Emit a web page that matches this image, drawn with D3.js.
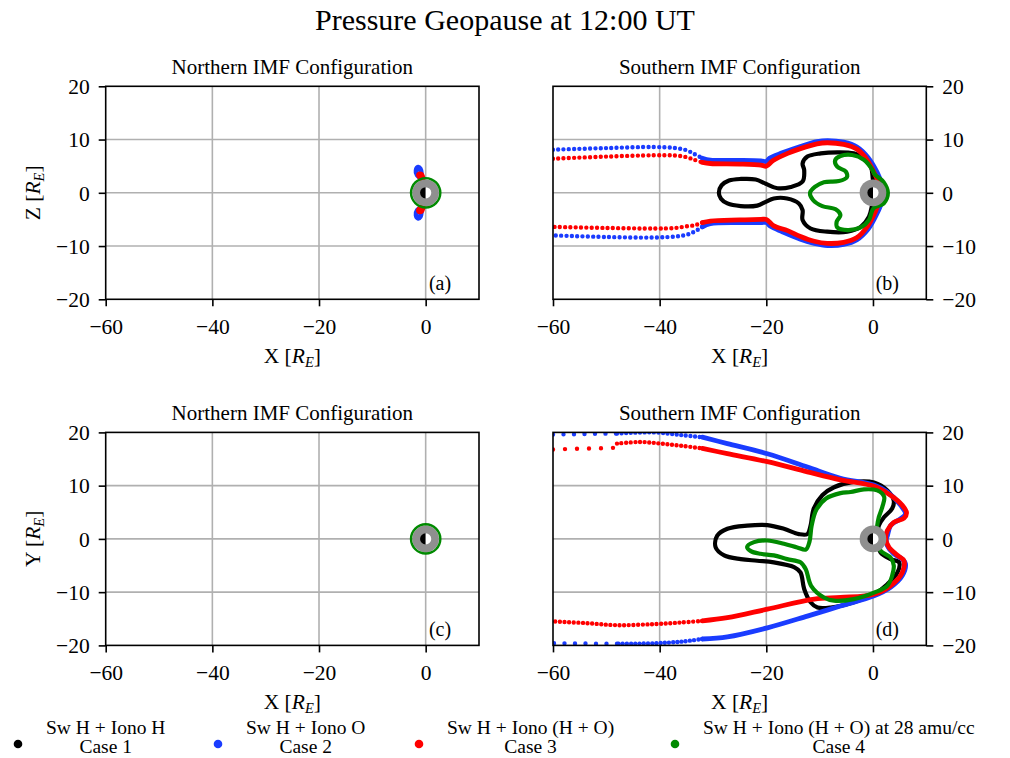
<!DOCTYPE html>
<html><head><meta charset="utf-8">
<script src="https://cdn.jsdelivr.net/npm/d3@7"></script>
<style>
body{margin:0;background:#fff;}
svg text{font-family:"Liberation Serif","Times New Roman",serif;fill:#000;}
</style></head><body>
<svg id="fig" width="1010" height="758"></svg>
<script>
// ---- Geopause boundaries, coordinates in Earth radii [x, z] or [x, y] ----
const caseLabels = ["Sw H + Iono H", "Sw H + Iono O", "Sw H + Iono (H + O)", "Sw H + Iono (H + O) at 28 amu/cc"];
const caseNames = ["Case 1", "Case 2", "Case 3", "Case 4"];
const caseColors = ["#000000", "#1a3cff", "#ff0000", "#008a00"];
const xTicks = [-60, -40, -20, 0];
const yTicks = [-20, -10, 0, 10, 20];

// Northern IMF, X-Z plane
const aBlueTop = [[-0.8,2.8],[-1.6,3.3],[-1.8,4.2],[-1.4,4.8],[-1.0,4.5],[-0.8,3.6]];
const aBlueBot = [[-0.8,-2.8],[-1.6,-3.3],[-1.8,-4.2],[-1.4,-4.8],[-1.0,-4.5],[-0.8,-3.6]];
const aRedTop = [[-0.5,2.6],[-1.2,3.0],[-1.3,3.5],[-0.8,3.5]];
const aRedBot = [[-0.5,-2.6],[-1.2,-3.0],[-1.3,-3.5],[-0.8,-3.5]];
const nearRing = [[2.75,0],[2.54,1.05],[1.94,1.94],[1.05,2.54],[0,2.75],[-1.05,2.54],[-1.94,1.94],[-2.54,1.05],[-2.75,0],[-2.54,-1.05],[-1.94,-1.94],[-1.05,-2.54],[0,-2.75],[1.05,-2.54],[1.94,-1.94],[2.54,-1.05]];

// Southern IMF, X-Z plane
const bBlueTailTop = [[-60,8.1],[-50,8.4],[-41,8.6],[-37,8.4],[-35,8.0],[-33.5,7.3],[-32,6.5]];
const bBlueBody = [[-32,6.5],[-30.5,6.15],[-25,6.1],[-21,6.0],[-20,5.9],[-19.4,6.5],[-17,7.5],[-13.6,8.7],[-10.5,9.6],[-8.5,9.8],[-5.5,9.5],[-3,8.6],[-0.9,6.6],[0.8,3.8],[1.7,1.5],[1.9,0],[1.7,-1.5],[0.8,-3.8],[-0.9,-6.8],[-3,-8.8],[-5.5,-9.7],[-8.5,-9.9],[-11,-9.5],[-13.6,-8.7],[-17,-7.3],[-19.2,-6.3],[-20,-5.6],[-21,-5.6],[-25,-5.6],[-30.5,-5.8],[-32,-6.4]];
const bBlueTailBot = [[-32,-6.4],[-33.5,-7.3],[-35,-7.9],[-37,-8.2],[-41,-8.4],[-50,-8.3],[-60,-8.0]];
const bRedTailTop = [[-60,6.4],[-50,6.8],[-41,7.05],[-37,7.0],[-35,6.7],[-33.5,6.2],[-32,5.7]];
const bRedBody = [[-32,5.7],[-30.5,5.5],[-25,5.4],[-21,5.2],[-20,5.0],[-18.8,6.0],[-16,7.4],[-13.6,8.3],[-10.5,9.2],[-8.6,9.4],[-5.5,9.1],[-3,8.2],[-1.1,6.2],[0.5,3.2],[1.3,1.3],[1.5,0],[1.3,-1.3],[0.5,-3.4],[-1.1,-6.4],[-3,-8.4],[-5.5,-9.3],[-8.6,-9.5],[-11,-9.1],[-13.6,-8.2],[-16,-7.1],[-18.6,-6.2],[-20,-5.0],[-21,-5.0],[-25,-5.1],[-30.5,-5.3],[-32,-5.6]];
const bRedTailBot = [[-32,-5.6],[-33.5,-6.1],[-35,-6.3],[-37,-6.6],[-41,-6.7],[-50,-6.6],[-60,-6.4]];
const bBlack = [[0.4,0],[0.0,2.4],[-0.4,4.9],[-1.7,6.5],[-3.6,7.4],[-6.7,7.6],[-9.8,7.4],[-12.3,6.8],[-13.2,5.5],[-12.9,4.3],[-13.2,2.1],[-15.4,1.1],[-17.9,0.85],[-20.1,1.7],[-22,2.5],[-24.8,2.6],[-27,2.3],[-28.4,1.4],[-28.9,0],[-28.5,-1.1],[-27.3,-2.0],[-24.8,-2.5],[-21.7,-2.4],[-20.1,-1.7],[-18.6,-1.06],[-16.1,-1.06],[-13.9,-2.0],[-13.2,-3.25],[-13.2,-5.1],[-11.7,-6.7],[-8.6,-7.3],[-4.8,-7.3],[-2.3,-6.4],[-0.75,-4.5],[-0.1,-2.0]];
const bGreen = [[2.8,0],[2.0,2.0],[0.3,3.5],[-0.1,4.3],[-1.7,6.2],[-3.9,7.1],[-6.1,6.9],[-7.1,6.1],[-6.7,4.9],[-5.1,4.0],[-4.9,2.9],[-6.4,2.2],[-9.2,2.0],[-10.9,1.1],[-11.8,0],[-11.2,-1.4],[-9.5,-2.5],[-7.0,-3.1],[-6.1,-4.2],[-6.8,-5.4],[-6.7,-6.5],[-4.8,-7.0],[-2.3,-6.5],[-0.75,-5.1],[0.1,-2.9],[2.0,-2.0]];

// Southern IMF, X-Y plane
const dBlueTailTopSparse = [[-60,19.6],[-48,19.8]];
const dBlueTailTop = [[-48,19.8],[-41,20.0],[-36,19.5],[-32,19.1]];
const dBlueBody = [[-32,19.1],[-27.3,17.9],[-19.8,16.0],[-12.3,13.5],[-6.1,11.4],[0.2,10.1],[2.7,8.8],[5.2,6.3],[6.1,4.7],[5.2,3.8],[3.3,2.5],[2.7,0.6],[2.5,0],[2.7,-1.3],[3.9,-2.8],[5.5,-3.8],[6.1,-4.7],[5.5,-6.9],[3.3,-9.1],[0.2,-10.7],[-6.1,-12.6],[-12.3,-14.5],[-19.8,-16.7],[-27.3,-18.4],[-32,-18.8]];
const dBlueTailBot = [[-32,-18.8],[-36,-19.3],[-41,-19.6],[-48,-19.7]];
const dBlueTailBotSparse = [[-48,-19.7],[-60,-19.6]];
const dRedTailTopSparse = [[-60,16.8],[-48.6,17.1]];
const dRedTailTop = [[-48,17.9],[-43.6,18.2],[-39.8,17.9],[-36,17.5],[-32,17.0]];
const dRedBody = [[-32,17.0],[-27.3,16.0],[-19.8,14.5],[-12.3,12.6],[-6.1,11.1],[0.2,9.9],[3.3,8.2],[5.5,6.3],[6.3,4.9],[5.8,3.9],[3.9,3.1],[2.7,1.6],[2.4,0],[3,-1.6],[4.6,-3.1],[5.8,-4.1],[5.5,-6.3],[3.3,-8.8],[0.2,-10.4],[-6.1,-11],[-11,-11.3],[-19.8,-13.2],[-27.3,-14.8],[-32,-15.4]];
const dRedTailBot = [[-32,-15.4],[-36,-15.7],[-41,-16.0],[-48,-16.2],[-54,-15.8],[-60,-15.5]];
const dBlack = [[1.1,2.5],[2.1,4.1],[3.6,5.7],[3.9,7.2],[2.7,9.1],[0.2,10.6],[-3.6,10.7],[-7.3,9.7],[-9.5,8.2],[-11.1,5.7],[-11.7,2.5],[-12.3,0.9],[-13.9,0.9],[-16.7,1.9],[-19.8,2.6],[-23.6,2.5],[-27.3,1.9],[-29.2,0.6],[-29.5,-1.6],[-27.9,-3.1],[-24.8,-3.8],[-21.7,-4.1],[-18.6,-4.4],[-14.8,-5.3],[-13.6,-6.3],[-12.9,-9.4],[-11.7,-11.9],[-10.4,-12.9],[-7.9,-12.9],[-3.6,-11.9],[0.2,-10.4],[2.7,-8.5],[4.6,-6.3],[4.9,-4.4],[3.3,-3.8],[1.4,-2.5],[0.8,0]];
const dGreen = [[0.8,2.5],[1.1,4.1],[1.75,6.0],[2.1,7.9],[0.8,9.1],[-1.7,9.3],[-4.2,8.8],[-6.1,8.6],[-8.8,7.6],[-10.6,5.5],[-11.5,2.5],[-11.9,-0.5],[-12.6,-2.0],[-14.2,-1.6],[-16.7,-0.9],[-19.8,-0.3],[-22.3,-0.6],[-23.6,-1.5],[-22.9,-2.3],[-21.1,-2.8],[-18.6,-3.1],[-16.1,-3.8],[-13.6,-4.4],[-12.6,-5.7],[-11.6,-8.8],[-9.2,-11.0],[-7.3,-11.6],[-3.6,-11.3],[0.2,-10.1],[2.7,-8.8],[3.6,-6.9],[3.9,-5.0],[3.3,-3.5],[1.4,-2.2],[0.6,0]];

// ---- figure layout ----
const svg = d3.select("#fig");
const W = 373.3, H = 213;
const panels = [
  {tag:"(a)", title:"Northern IMF Configuration", left:105.7, top:86.3, yName:"Z", yLeft:true,
   layers:[{d:aBlueTop,c:1,closed:true},{d:aBlueBot,c:1,closed:true},{d:aRedTop,c:2,closed:true},{d:aRedBot,c:2,closed:true}]},
  {tag:"(b)", title:"Southern IMF Configuration", left:553, top:86.3, yName:"Z", yLeft:false,
   layers:[{d:bBlack,c:0,closed:true},
           {d:bBlueTailTop,c:1,dots:5.3},{d:bBlueBody,c:1},{d:bBlueTailBot,c:1,dots:5.3},
           {d:bRedTailTop,c:2,dots:5.3},{d:bRedBody,c:2},{d:bRedTailBot,c:2,dots:5.3},
           {d:bGreen,c:3,closed:true}]},
  {tag:"(c)", title:"Northern IMF Configuration", left:105.7, top:432.4, yName:"Y", yLeft:true,
   layers:[]},
  {tag:"(d)", title:"Southern IMF Configuration", left:553, top:432.4, yName:"Y", yLeft:false,
   layers:[{d:dBlack,c:0,closed:true},
           {d:dBlueTailTopSparse,c:1,dots:10.5},{d:dBlueTailTop,c:1,dots:4.6},{d:dBlueBody,c:1},{d:dBlueTailBot,c:1,dots:4.2},{d:dBlueTailBotSparse,c:1,dots:10.5},
           {d:dRedTailTopSparse,c:2,dots:12},{d:dRedTailTop,c:2,dots:4.6},{d:dRedBody,c:2},{d:dRedTailBot,c:2,dots:4.6},
           {d:dGreen,c:3,closed:true}]}
];

function axisLabel(g, name){
  g.append("tspan").text(name + " [");
  g.append("tspan").attr("font-style","italic").text("R");
  g.append("tspan").attr("font-style","italic").attr("font-size","14.5px").attr("dy","4").text("E");
  g.append("tspan").attr("dy","-4").text("]");
}

panels.forEach((p, i) => {
  const x = d3.scaleLinear().domain([-60, 10]).range([p.left, p.left + W]);
  const y = d3.scaleLinear().domain([-20, 20]).range([p.top + H, p.top]);
  const g = svg.append("g");
  const clipId = "clip" + i;
  svg.append("clipPath").attr("id", clipId).append("rect")
    .attr("x", p.left).attr("y", p.top).attr("width", W).attr("height", H);

  // grid
  const grid = g.append("g").attr("stroke", "#b0b0b0").attr("stroke-width", 1.6);
  [-40, -20, 0].forEach(v => grid.append("line").attr("x1", x(v)).attr("x2", x(v)).attr("y1", p.top).attr("y2", p.top + H));
  [-10, 0, 10].forEach(v => grid.append("line").attr("y1", y(v)).attr("y2", y(v)).attr("x1", p.left).attr("x2", p.left + W));

  // boundaries
  const plot = g.append("g").attr("clip-path", `url(#${clipId})`);
  const lineOpen = d3.line().x(d => x(d[0])).y(d => y(d[1])).curve(d3.curveCatmullRom.alpha(0.5));
  const lineClosed = d3.line().x(d => x(d[0])).y(d => y(d[1])).curve(d3.curveCatmullRomClosed.alpha(0.5));
  p.layers.forEach(L => {
    const path = plot.append("path").attr("d", (L.closed ? lineClosed : lineOpen)(L.d)).attr("fill", "none")
      .attr("stroke", caseColors[L.c]).attr("stroke-linejoin", "round").attr("stroke-linecap", "round");
    if (L.dots) {
      path.attr("stroke-width", 4.4).attr("stroke-dasharray", `0 ${L.dots}`);
    } else {
      path.attr("stroke-width", L.c === 0 || L.c === 3 ? 4.2 : 4.8);
    }
  });

  // Earth and inner boundary
  const kx = x(1) - x(0);
  const ex = x(0), ey = y(0);
  plot.append("circle").attr("cx", ex).attr("cy", ey).attr("r", 2.5 * kx).attr("fill", "#8f8f8f");
  const arc = d3.arc().innerRadius(0).outerRadius(1.05 * kx);
  plot.append("path").attr("transform", `translate(${ex},${ey})`)
    .attr("d", arc({startAngle: Math.PI, endAngle: 2 * Math.PI})).attr("fill", "#000");
  plot.append("path").attr("transform", `translate(${ex},${ey})`)
    .attr("d", arc({startAngle: 0, endAngle: Math.PI})).attr("fill", "#fff");
  if (i % 2 === 0) {
    // Case 4 boundary hugging the inner boundary under northern IMF
    plot.append("path").attr("d", lineClosed(nearRing)).attr("fill", "none")
      .attr("stroke", caseColors[3]).attr("stroke-width", 2.4);
  }

  // frame
  g.append("rect").attr("x", p.left).attr("y", p.top).attr("width", W).attr("height", H)
    .attr("fill", "none").attr("stroke", "#000").attr("stroke-width", 1.6);

  // x axis
  const xa = g.append("g").attr("transform", `translate(0,${p.top + H})`)
    .call(d3.axisBottom(x).tickValues(xTicks).tickSize(7).tickFormat(d3.format("d")));
  xa.select(".domain").remove();
  xa.selectAll(".tick line").attr("stroke-width", 1.6);
  xa.selectAll(".tick text").attr("y", 35).attr("dy", 0).attr("font-size", "21.5px")
    .attr("font-family", null).style("font-family", "'Liberation Serif',serif");

  // y axis
  const axisFn = p.yLeft ? d3.axisLeft(y) : d3.axisRight(y);
  const ya = g.append("g").attr("transform", `translate(${p.yLeft ? p.left : p.left + W},0)`)
    .call(axisFn.tickValues(yTicks).tickSize(7).tickPadding(9).tickFormat(d3.format("d")));
  ya.select(".domain").remove();
  ya.selectAll(".tick line").attr("stroke-width", 1.6);
  ya.selectAll(".tick text").attr("font-size", "21.5px").attr("dy", "0.34em")
    .attr("font-family", null).style("font-family", "'Liberation Serif',serif");

  // labels
  svg.append("text").attr("x", p.left + W / 2).attr("y", p.top - 12.5).attr("text-anchor", "middle")
    .attr("font-size", "21px").text(p.title);
  const xl = svg.append("text").attr("x", p.left + W / 2).attr("y", p.top + H + 64)
    .attr("text-anchor", "middle").attr("font-size", "21.5px");
  axisLabel(xl, "X");
  if (p.yLeft) {
    const yl = svg.append("text").attr("transform", `translate(40,${p.top + H / 2}) rotate(-90)`)
      .attr("text-anchor", "middle").attr("font-size", "21.5px");
    axisLabel(yl, p.yName);
  }
  svg.append("text").attr("x", p.left + W - 39).attr("y", p.top + H - 9.5).attr("text-anchor", "middle")
    .attr("font-size", "20px").text(p.tag);
});

// title
svg.append("text").attr("x", 505).attr("y", 30).attr("text-anchor", "middle")
  .attr("font-size", "30px").text("Pressure Geopause at 12:00 UT");

// legend
const legX = [18, 218, 419, 675];
caseLabels.forEach((lab, i) => {
  const lg = svg.append("g");
  lg.append("circle").attr("cx", legX[i]).attr("cy", 744).attr("r", 4.3).attr("fill", caseColors[i]);
  const t1 = lg.append("text").attr("x", legX[i] + 28).attr("y", 734).attr("font-size", "19.5px").text(lab);
  const w = t1.node().getComputedTextLength();
  const cx = legX[i] + 28 + w / 2;
  t1.attr("x", cx).attr("text-anchor", "middle");
  lg.append("text").attr("x", cx).attr("y", 753).attr("text-anchor", "middle").attr("font-size", "19.5px").text(caseNames[i]);
});
</script>
</body></html>
